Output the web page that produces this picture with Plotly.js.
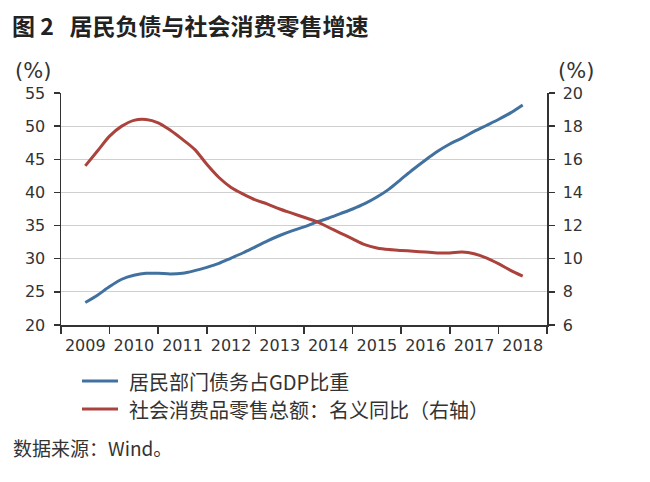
<!DOCTYPE html>
<html>
<head>
<meta charset="utf-8">
<script src="https://cdn.plot.ly/plotly-3.0.1.min.js"></script>
<style>html,body{margin:0;padding:0;background:#fff;}#chart{width:650px;height:482px;}</style>
</head>
<body>
<div id="chart"></div>
<script>
// Quarterly positions (decimal years)
var quarterX = [2009.00, 2009.25, 2009.50, 2009.75, 2010.00, 2010.25, 2010.50, 2010.75,
                2011.00, 2011.25, 2011.50, 2011.75, 2012.00, 2012.25, 2012.50, 2012.75,
                2013.00, 2013.25, 2013.50, 2013.75, 2014.00, 2014.25, 2014.50, 2014.75,
                2015.00, 2015.25, 2015.50, 2015.75, 2016.00, 2016.25, 2016.50, 2016.75,
                2017.00, 2017.25, 2017.50, 2017.75, 2018.00];
// 居民部门债务占GDP比重 (%), left axis
var householdDebtGDP = [23.4, 24.5, 25.8, 26.9, 27.5, 27.8, 27.8, 27.7,
                        27.8, 28.2, 28.7, 29.3, 30.1, 30.9, 31.8, 32.7,
                        33.5, 34.2, 34.8, 35.5, 36.1, 36.8, 37.5, 38.3,
                        39.3, 40.5, 42.0, 43.5, 44.9, 46.2, 47.3, 48.2,
                        49.2, 50.1, 51.0, 52.0, 53.2];
// 社会消费品零售总额：名义同比 (%), right axis
var retailSalesYoY = [15.6, 16.5, 17.4, 18.0, 18.35, 18.4, 18.2, 17.75,
                      17.2, 16.6, 15.7, 14.9, 14.3, 13.9, 13.55, 13.3,
                      13.0, 12.75, 12.5, 12.25, 11.9, 11.55, 11.2, 10.85,
                      10.65, 10.55, 10.5, 10.45, 10.4, 10.35, 10.35, 10.4,
                      10.3, 10.05, 9.7, 9.3, 8.95];
var yearTicks = [2009, 2010, 2011, 2012, 2013, 2014, 2015, 2016, 2017, 2018];
var yearLabels = ['2009', '2010', '2011', '2012', '2013', '2014', '2015', '2016', '2017', '2018'];
var yearBoundaries = [2008.5, 2009.5, 2010.5, 2011.5, 2012.5, 2013.5, 2014.5, 2015.5, 2016.5, 2017.5, 2018.5];
var seriesNames = ['居民部门债务占GDP比重', '社会消费品零售总额：名义同比（右轴）'];
var seriesColors = ['#41719f', '#ab423c'];

var numFont = {family: 'DejaVu Sans', size: 16, color: '#333'};
var cjk = 'Noto Sans CJK SC';

var traces = [
  {x: quarterX, y: householdDebtGDP, name: seriesNames[0], type: 'scatter', mode: 'lines',
   line: {color: seriesColors[0], width: 3, shape: 'spline', smoothing: 0.8}, yaxis: 'y'},
  {x: quarterX, y: retailSalesYoY, name: seriesNames[1], type: 'scatter', mode: 'lines',
   line: {color: seriesColors[1], width: 3, shape: 'spline', smoothing: 0.8}, yaxis: 'y2'}
];

// paper-coordinate helpers (plot area: x 61..547, y 93..325)
function px(x) { return (x - 61) / 486; }
function py(y) { return (325 - y) / 232; }

var legendRows = [381, 409];

var layout = {
  width: 650, height: 482,
  margin: {l: 61, r: 103, t: 93, b: 157},
  paper_bgcolor: '#fff', plot_bgcolor: '#fff',
  showlegend: false,
  title: {
    text: '图 2   居民负债与社会消费零售增速',
    font: {family: cjk, size: 23, color: '#222', weight: 'bold'},
    x: 12/650, xanchor: 'left', xref: 'container',
    y: 1 - 27/482, yanchor: 'middle', yref: 'container'
  },
  xaxis: {
    type: 'linear', range: [2008.5, 2018.5],
    tickmode: 'array', tickvals: yearTicks, ticktext: yearLabels,
    ticks: '', showgrid: false, zeroline: false,
    showline: true, linecolor: '#333', linewidth: 1.5,
    tickfont: numFont, ticklabelstandoff: 5,
    minor: {tickmode: 'array', tickvals: yearBoundaries, ticks: 'outside', ticklen: 7, tickwidth: 1.5, tickcolor: '#333', showgrid: false},
    fixedrange: true
  },
  yaxis: {
    range: [20, 55], tickmode: 'linear', tick0: 20, dtick: 5,
    ticks: 'outside', ticklen: 6, tickwidth: 1.5, tickcolor: '#333',
    showline: true, linecolor: '#333', linewidth: 1.5,
    showgrid: true, gridcolor: '#cfcfcf', gridwidth: 1, zeroline: false,
    tickfont: numFont, ticklabelstandoff: 5
  },
  yaxis2: {
    range: [6, 20], tickmode: 'linear', tick0: 6, dtick: 2,
    overlaying: 'y', side: 'right', anchor: 'x',
    ticks: 'outside', ticklen: 6, tickwidth: 1.5, tickcolor: '#333',
    showline: true, linecolor: '#333', linewidth: 1.5,
    showgrid: false, zeroline: false,
    tickfont: numFont, ticklabelstandoff: 5
  },
  shapes: [
    {type: 'line', xref: 'paper', yref: 'paper', x0: px(82), x1: px(118), y0: py(legendRows[0]), y1: py(legendRows[0]),
     line: {color: seriesColors[0], width: 3}},
    {type: 'line', xref: 'paper', yref: 'paper', x0: px(82), x1: px(118), y0: py(legendRows[1]), y1: py(legendRows[1]),
     line: {color: seriesColors[1], width: 3}}
  ],
  annotations: [
    {text: seriesNames[0], xref: 'paper', yref: 'paper', x: px(127), y: py(legendRows[0]),
     xanchor: 'left', yanchor: 'middle', showarrow: false,
     font: {family: cjk, size: 20, color: '#333'}},
    {text: seriesNames[1], xref: 'paper', yref: 'paper', x: px(127), y: py(legendRows[1]),
     xanchor: 'left', yanchor: 'middle', showarrow: false,
     font: {family: cjk, size: 20, color: '#333'}},
    {text: '(%)', xref: 'paper', yref: 'paper', x: px(33), y: py(71),
     xanchor: 'center', yanchor: 'middle', showarrow: false,
     font: {family: 'DejaVu Sans', size: 21, color: '#333'}},
    {text: '(%)', xref: 'paper', yref: 'paper', x: px(576), y: py(71),
     xanchor: 'center', yanchor: 'middle', showarrow: false,
     font: {family: 'DejaVu Sans', size: 21, color: '#333'}},
    {text: '数据来源：Wind。', xref: 'paper', yref: 'paper', x: px(11), y: py(447),
     xanchor: 'left', yanchor: 'middle', showarrow: false,
     font: {family: cjk, size: 19, color: '#333'}}
  ]
};

Plotly.newPlot('chart', traces, layout, {staticPlot: true, displayModeBar: false});
</script>
</body>
</html>
